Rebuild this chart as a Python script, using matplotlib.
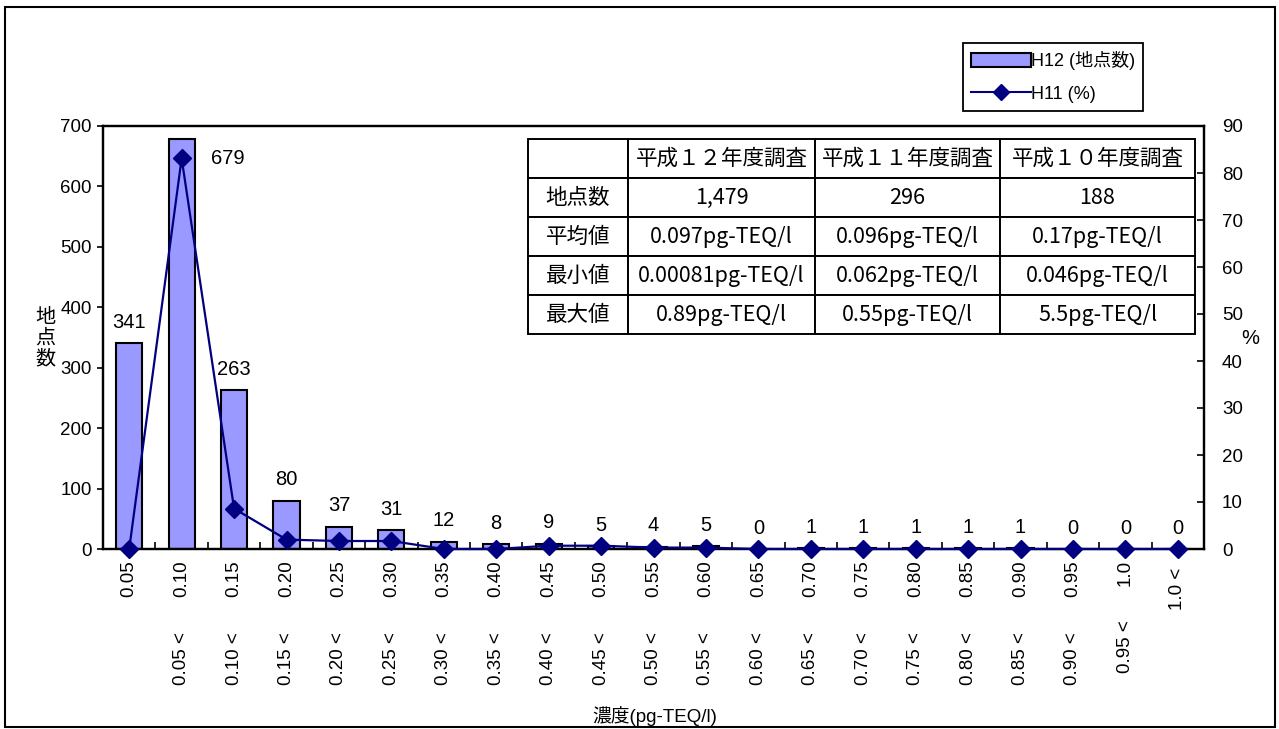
import matplotlib
matplotlib.use("Agg")
import matplotlib.pyplot as plt
from matplotlib.patches import Rectangle, Patch
from matplotlib.lines import Line2D
import matplotlib.transforms as mtransforms
import numpy as np

plt.rcParams['font.family'] = ['Liberation Sans Narrow', 'Liberation Sans', 'Noto Sans CJK JP', 'DejaVu Sans']

# ---- data ----
upper_labels = ['0.05', '0.10', '0.15', '0.20', '0.25', '0.30', '0.35', '0.40', '0.45', '0.50',
                '0.55', '0.60', '0.65', '0.70', '0.75', '0.80', '0.85', '0.90', '0.95', '1.0', '1.0 <']
lower_labels = ['', '0.05 <', '0.10 <', '0.15 <', '0.20 <', '0.25 <', '0.30 <', '0.35 <', '0.40 <',
                '0.45 <', '0.50 <', '0.55 <', '0.60 <', '0.65 <', '0.70 <', '0.75 <', '0.80 <',
                '0.85 <', '0.90 <', '0.95 <', '']
h12_counts = [341, 679, 263, 80, 37, 31, 12, 8, 9, 5, 4, 5, 0, 1, 1, 1, 1, 1, 0, 0, 0]
h11_pct = [0.0, 83.1, 8.6, 2.0, 1.7, 1.7, 0.0, 0.0, 0.7, 0.7, 0.3, 0.3, 0.0, 0.0, 0.0, 0.0,
           0.0, 0.0, 0.0, 0.0, 0.0]
legend_labels = ['H12 (地点数)', 'H11 (%)']

table_header = ['', '平成１２年度調査', '平成１１年度調査', '平成１０年度調査']
table_rows = ['地点数', '平均値', '最小値', '最大値']
table_h12 = ['1,479', '0.097pg-TEQ/l', '0.00081pg-TEQ/l', '0.89pg-TEQ/l']
table_h11 = ['296', '0.096pg-TEQ/l', '0.062pg-TEQ/l', '0.55pg-TEQ/l']
table_h10 = ['188', '0.17pg-TEQ/l', '0.046pg-TEQ/l', '5.5pg-TEQ/l']

# ---- figure ----
W, H = 1279, 729
fig = plt.figure(figsize=(W / 100, H / 100), dpi=100)
fig.patches.append(Rectangle((5 / W, 1 - 727 / H), (1275 - 5) / W, (727 - 7) / H,
                             transform=fig.transFigure, fill=False, edgecolor='black',
                             linewidth=1.5, zorder=0))

L, R, T, B = 103, 1204, 126, 549
ax = fig.add_axes([L / W, 1 - B / H, (R - L) / W, (B - T) / H])
ax2 = ax.twinx()

x = np.arange(len(h12_counts))
bar_color = '#9999FF'
line_color = '#000080'

ax.bar(x, h12_counts, width=0.5, color=bar_color, edgecolor='black', linewidth=1.5, zorder=2)
ax.set_xlim(-0.5, len(x) - 0.5)
ax.set_ylim(0, 700)
ax.set_yticks(np.arange(0, 701, 100))
ax.set_xticks(np.arange(-0.5, len(x) - 0.4, 1.0))
ax.set_xticklabels([])
ax.tick_params(axis='x', direction='in', length=5, width=1.2, colors='black')
ax.tick_params(axis='y', direction='out', length=4, width=1.2, labelsize=13.5, pad=4)
for s in ax.spines.values():
    s.set_linewidth(1.6)
    s.set_color('black')

ax2.plot(x, h11_pct, color=line_color, linewidth=1.6, marker='D', markersize=9.5,
         markerfacecolor=line_color, markeredgecolor=line_color, zorder=5, clip_on=False)
ax2.set_ylim(0, 90)
ax2.set_yticks(np.arange(0, 91, 10))
ax2.tick_params(axis='y', direction='in', length=5, width=1.2, labelsize=13.5, pad=13)
for s in ax2.spines.values():
    s.set_linewidth(1.6)
    s.set_color('black')

# data labels
for i, v in enumerate(h12_counts):
    if i == 1:
        ax.annotate(str(v), xy=(i, v), xytext=(33, -14), textcoords='offset points',
                    ha='center', va='center', fontsize=14.5)
    else:
        ax.annotate(str(v), xy=(i, v), xytext=(0, 15), textcoords='offset points',
                    ha='center', va='center', fontsize=14.5)

# category labels (two-part, rotated)
trans = mtransforms.blended_transform_factory(ax.transData, ax.transAxes)
ph = B - T
for i, (u, lo) in enumerate(zip(upper_labels, lower_labels)):
    yu = -(560 - B) / ph if i < len(x) - 1 else -(568 - B) / ph
    ax.text(i, yu, u, rotation=90, ha='center', va='top', fontsize=13.5, transform=trans)
    if lo:
        yl = -(685 - B) / ph if i < len(x) - 2 else -(673 - B) / ph
        ax.text(i, yl, lo, rotation=90, ha='center', va='bottom', fontsize=13.5, transform=trans)

# axis titles
fig.text(655 / W, 1 - 716 / H, '濃度(pg-TEQ/l)', ha='center', va='center', fontsize=13.5)
fig.text(45 / W, 1 - 338 / H, '地\n点\n数', ha='center', va='center', fontsize=14.5,
         linespacing=1.0, family=['Noto Sans CJK JP'])
fig.text(1250 / W, 1 - 338 / H, '%', ha='center', va='center', fontsize=14.5)

# table
cell_text = [table_header] + [[r, a, b, c] for r, a, b, c in zip(table_rows, table_h12, table_h11, table_h10)]
tx0, tx1, ty0, ty1 = 528, 1195, 139, 334
col_px = [100, 187, 185, 195]
tbl = ax2.table(cellText=cell_text, cellLoc='center',
                colWidths=[c / sum(col_px) for c in col_px],
                bbox=[(tx0 - L) / (R - L), (B - ty1) / ph, (tx1 - tx0) / (R - L), (ty1 - ty0) / ph],
                zorder=10)
tbl.auto_set_font_size(False)
for (r, c), cell in tbl.get_celld().items():
    cell.set_edgecolor('black')
    cell.set_linewidth(1.4)
    cell.set_facecolor('white')
    cell.get_text().set_fontfamily(['Noto Sans CJK JP'])
    cell.get_text().set_fontsize(15.5)

# legend
handles = [Patch(facecolor=bar_color, edgecolor='black', linewidth=1.5),
           Line2D([0], [0], color=line_color, linewidth=1.5, marker='D', markersize=8,
                  markerfacecolor=line_color)]
leg = fig.legend(handles, legend_labels, loc='upper left',
                 bbox_to_anchor=(963 / W, 1 - 43 / H), frameon=True, fancybox=False,
                 edgecolor='black', handlelength=3.3, handleheight=0.8,
                 handletextpad=0.0, borderpad=0.45, labelspacing=0.85, borderaxespad=0,
                 prop={'family': ['Liberation Sans', 'Noto Sans CJK JP'], 'size': 13})
leg.get_frame().set_linewidth(1.3)
leg.get_frame().set_alpha(1)

fig.savefig('out.png', dpi=100)
